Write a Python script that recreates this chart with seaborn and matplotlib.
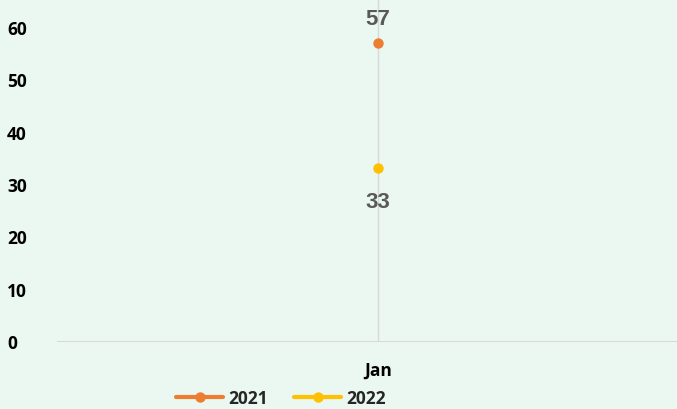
import pandas as pd
import matplotlib.pyplot as plt
import seaborn as sns

# values
months = ["Jan"]
years = ["2021", "2022"]
values_2021 = [57]
values_2022 = [33]
colors = ["#ED7D31", "#FFC000"]

df = pd.DataFrame({
    "month": months * 2,
    "year": [years[0]] * len(months) + [years[1]] * len(months),
    "value": values_2021 + values_2022,
})

sns.set_style("white")
plt.rcParams["font.family"] = ["Open Sans", "DejaVu Sans"]

fig = plt.figure(figsize=(6.77, 4.10), dpi=100)
fig.patch.set_facecolor("#EBF8F1")
ax = fig.add_axes([57 / 677, 68 / 410, 620 / 677, 342 / 410])
ax.set_facecolor("#EBF8F1")

sns.lineplot(data=df, x="month", y="value", hue="year", palette=colors,
             marker="o", markersize=7.5, markeredgewidth=0, linewidth=3, ax=ax)

# category line and data labels
ax.axvline(0, color="#D9D9D9", linewidth=1, zorder=0)
ax.annotate(str(values_2021[0]), (0, values_2021[0]), xytext=(0, 10),
            textcoords="offset points", ha="center", va="bottom",
            fontsize=16, fontweight="bold", color="#595959",
            family="Liberation Sans")
ax.annotate(str(values_2022[0]), (0, values_2022[0]), xytext=(0, -16),
            textcoords="offset points", ha="center", va="top",
            fontsize=16, fontweight="bold", color="#595959",
            family="Liberation Sans")

ax.set_xlim(-1.0, 0.93)
ax.set_ylim(0, 65.35)
ax.set_yticks(range(0, 61, 10))
ax.set_xlabel("")
ax.set_ylabel("")
ax.tick_params(length=0)
ax.tick_params(axis="x", pad=14)
for lab in ax.get_xticklabels() + ax.get_yticklabels():
    lab.set_fontweight("bold")
    lab.set_fontsize(12.5)
    lab.set_color("black")
for lab in ax.get_yticklabels():
    lab.set_horizontalalignment("left")
    lab.set_x(-45 / 620)

for s in ["top", "right", "left"]:
    ax.spines[s].set_visible(False)
ax.spines["bottom"].set_color("#D9D9D9")

ax.legend(loc="upper center", bbox_to_anchor=(281 / 677, 30 / 410),
          bbox_transform=fig.transFigure, ncol=2, frameon=False,
          prop={"weight": "bold", "size": 12.5}, handlelength=2.7,
          handletextpad=0.3, columnspacing=1.5, borderpad=0.1)

fig.savefig("out.png", dpi=100, facecolor=fig.get_facecolor())
